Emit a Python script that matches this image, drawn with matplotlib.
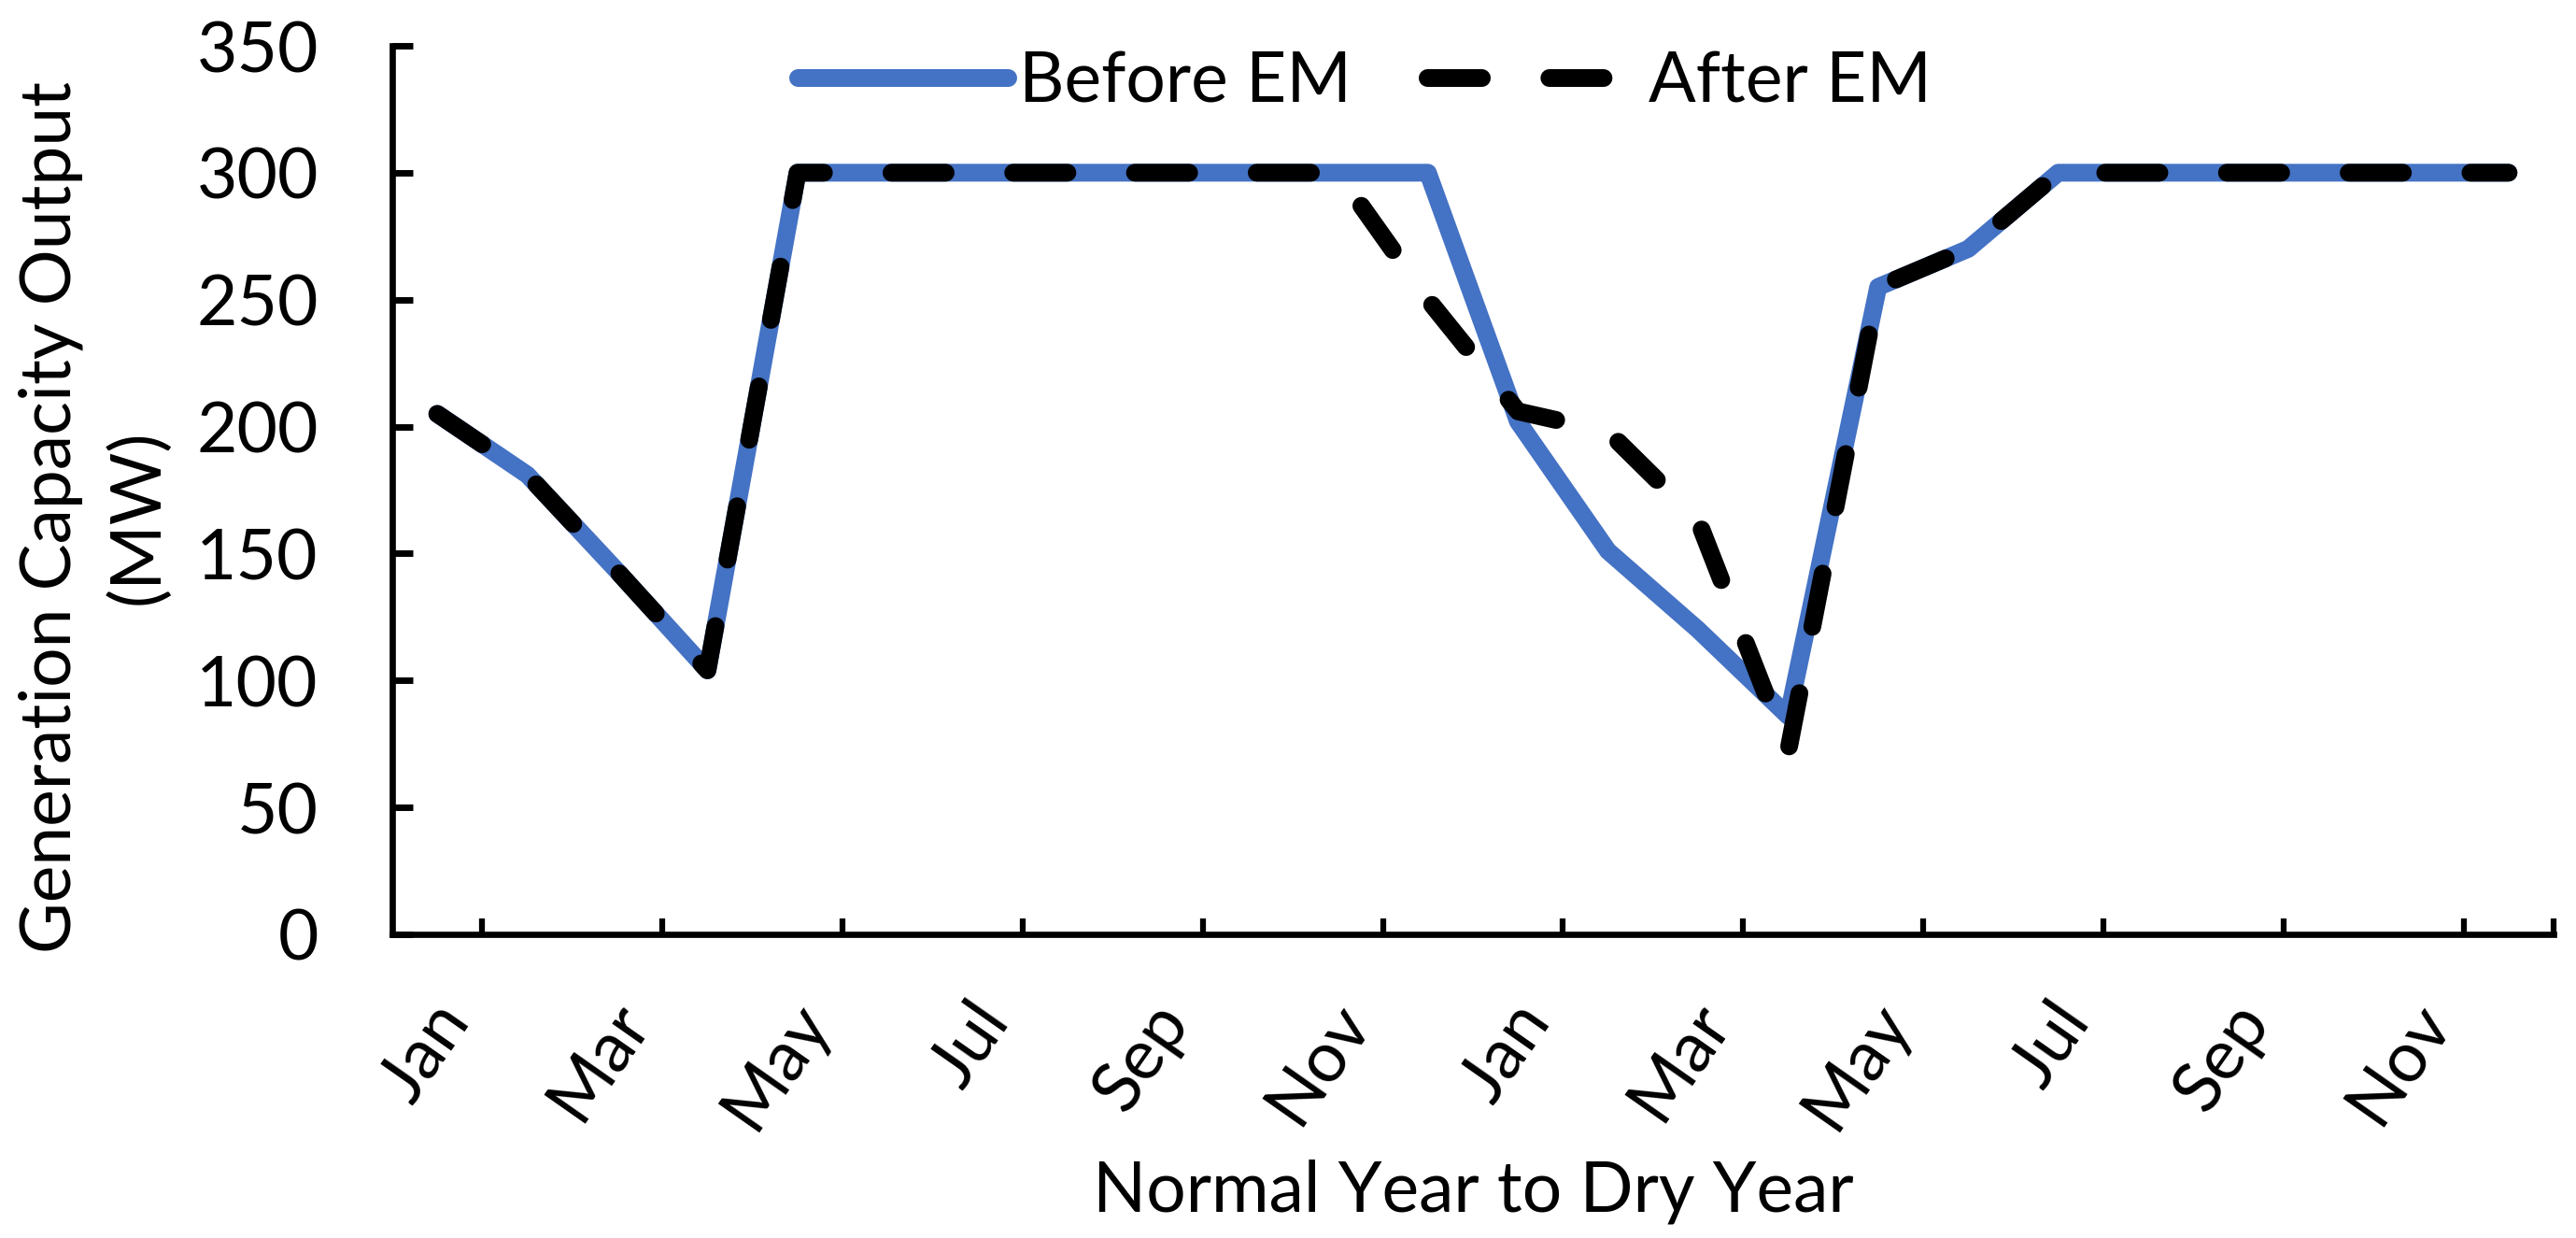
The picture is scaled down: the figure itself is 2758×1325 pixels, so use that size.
import matplotlib
matplotlib.use('Agg')
import matplotlib.pyplot as plt
from matplotlib.transforms import ScaledTranslation

# ---- data ----
months = ['Jan', 'Feb', 'Mar', 'Apr', 'May', 'Jun', 'Jul', 'Aug', 'Sep', 'Oct', 'Nov', 'Dec',
          'Jan', 'Feb', 'Mar', 'Apr', 'May', 'Jun', 'Jul', 'Aug', 'Sep', 'Oct', 'Nov', 'Dec']
before_em = [205, 181, 143, 104, 300, 300, 300, 300, 300, 300, 300, 300,
             202, 151, 120, 86, 255, 270, 300, 300, 300, 300, 300, 300]
after_em = [205, 181, 143, 104, 300, 300, 300, 300, 300, 300, 300, 250,
            206, 198, 163, 72, 255, 270, 300, 300, 300, 300, 300, 300]
y_ticks = [0, 50, 100, 150, 200, 250, 300, 350]
x_tick_labels = months[::2]
series_labels = ['Before EM', 'After EM']
x_title = 'Normal Year to Dry Year'
y_title = 'Generation Capacity Output\n(MW)'

plt.rcParams['font.family'] = ['Lato', 'DejaVu Sans']
FS = 54

fig = plt.figure(figsize=(27.58, 13.25), dpi=100)
W, H = 2758, 1325
left, right, bottom, top = 420, 2734, 1000, 49
ax = fig.add_axes([left / W, 1 - bottom / H, (right - left) / W, (bottom - top) / H])

x = list(range(len(months)))
ax.plot(x, before_em, color='#4472C4', lw=13.7, solid_capstyle='round',
        solid_joinstyle='round', label=series_labels[0], zorder=2, clip_on=False)
ax.plot(x, after_em, color='black', lw=13.7, linestyle=(0, (3.05, 3.8)),
        dash_capstyle='round', dash_joinstyle='round', label=series_labels[1],
        zorder=3, clip_on=False)

n = len(months)
ax.set_xlim(-0.5, n - 0.5)
ax.set_ylim(y_ticks[0], y_ticks[-1])

major_x = [i + 0.5 for i in range(0, n, 2)] + [n - 0.5]
minor_x = list(range(0, n, 2))
ax.set_xticks(major_x)
ax.set_xticklabels([''] * len(major_x))
ax.set_xticks(minor_x, minor=True)
ax.set_xticklabels(x_tick_labels, minor=True, rotation=55, ha='right', va='center',
                   rotation_mode='anchor', fontsize=FS)
ax.tick_params(axis='x', which='minor', length=0, pad=58)
ax.tick_params(axis='x', which='major', direction='in', length=12, width=4.5)
shift = ScaledTranslation(18 / 100, 0, fig.dpi_scale_trans)
for lab in ax.get_xticklabels(minor=True):
    lab.set_transform(lab.get_transform() + shift)

ax.set_yticks(y_ticks)
ax.tick_params(axis='y', direction='in', length=16, width=5, pad=57, labelsize=FS)

for s in ['top', 'right']:
    ax.spines[s].set_visible(False)
for s in ['left', 'bottom']:
    ax.spines[s].set_linewidth(4.8)
    ax.spines[s].set_color('black')

ax.set_xlabel(x_title, fontsize=FS)
ax.xaxis.set_label_coords(0.5, (bottom - 1240) / (bottom - top))
ax.set_ylabel(y_title, fontsize=FS, linespacing=1.43)
ax.yaxis.set_label_coords((183 - left) / (right - left), (bottom - 553) / (bottom - top))

ax.legend(loc='center', bbox_to_anchor=(1461 / W, 1 - 88 / H), bbox_transform=fig.transFigure,
          ncol=2, frameon=False, fontsize=FS, handlelength=3.0, handletextpad=0.17,
          columnspacing=1.07, borderpad=0, borderaxespad=0)

fig.savefig('out.png', dpi=100)
